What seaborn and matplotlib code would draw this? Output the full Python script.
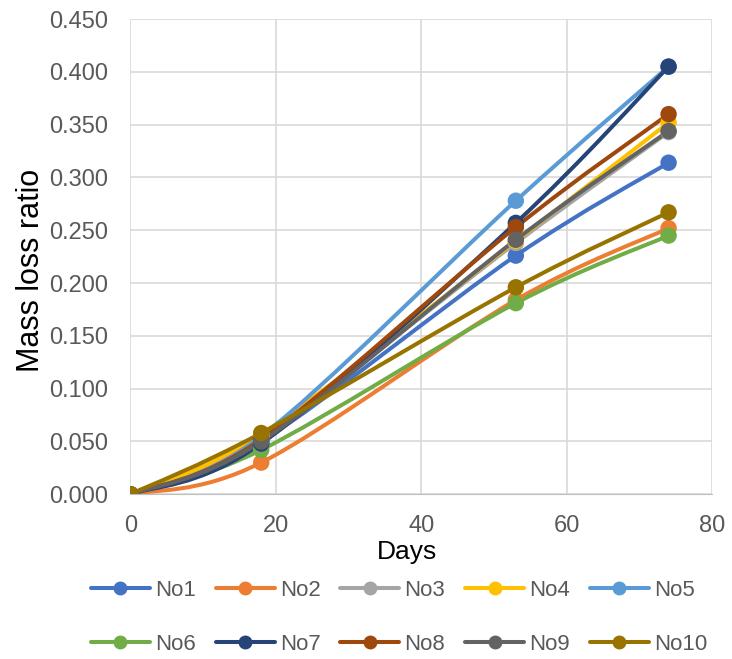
import numpy as np
import pandas as pd
import seaborn as sns
import matplotlib.pyplot as plt
from matplotlib.path import Path
from matplotlib.patches import PathPatch
from matplotlib.lines import Line2D

days = [0, 18, 53, 74]
series_names = ["No1", "No2", "No3", "No4", "No5", "No6", "No7", "No8", "No9", "No10"]
no1 = [0.000, 0.050, 0.226, 0.314]
no2 = [0.000, 0.030, 0.184, 0.252]
no3 = [0.000, 0.054, 0.238, 0.343]
no4 = [0.000, 0.057, 0.240, 0.352]
no5 = [0.000, 0.055, 0.278, 0.405]
no6 = [0.000, 0.042, 0.181, 0.245]
no7 = [0.000, 0.048, 0.257, 0.405]
no8 = [0.000, 0.052, 0.253, 0.360]
no9 = [0.000, 0.050, 0.241, 0.344]
no10 = [0.000, 0.058, 0.196, 0.267]
colors = ["#4472C4", "#ED7D31", "#A5A5A5", "#FFC000", "#5B9BD5",
          "#70AD47", "#264478", "#9E480E", "#636363", "#997300"]

all_values = [no1, no2, no3, no4, no5, no6, no7, no8, no9, no10]
rows = []
for name, vals in zip(series_names, all_values):
    for d, v in zip(days, vals):
        rows.append({"series": name, "Days": d, "ratio": v})
df = pd.DataFrame(rows)

sns.set_style("white")
plt.rcParams["font.family"] = ["Liberation Sans", "DejaVu Sans"]

fig = plt.figure(figsize=(7.32, 6.59), dpi=100)
ax = fig.add_axes([0.178, 0.250, 0.795, 0.721])


def smooth_path(xs, ys):
    # Excel-style smoothed line: cubic bezier segments through the points
    pts = np.column_stack([xs, ys]).astype(float)
    n = len(pts)
    verts = [pts[0]]
    codes = [Path.MOVETO]
    for i in range(n - 1):
        p0 = pts[max(i - 1, 0)]
        p1 = pts[i]
        p2 = pts[i + 1]
        p3 = pts[min(i + 2, n - 1)]
        c1 = p1 + (p2 - p0) / 6.0
        c2 = p2 - (p3 - p1) / 6.0
        verts += [c1, c2, p2]
        codes += [Path.CURVE4] * 3
    return Path(verts, codes)


for i, name in enumerate(series_names):
    sub = df[df["series"] == name]
    ax.add_patch(PathPatch(smooth_path(sub["Days"], sub["ratio"]), facecolor="none",
                           edgecolor=colors[i], lw=2.9, zorder=3 + i * 0.1,
                           capstyle="round", joinstyle="round"))

sns.scatterplot(data=df, x="Days", y="ratio", hue="series", hue_order=series_names,
                palette=colors, s=140, edgecolor="none", legend=False, ax=ax, zorder=5)

ax.set_xlim(0, 80)
ax.set_ylim(0, 0.45)
ax.set_xticks(np.arange(0, 81, 20))
ax.set_yticks(np.arange(0, 0.451, 0.05))
ax.set_yticklabels([f"{v:.3f}" for v in np.arange(0, 0.451, 0.05)])
ax.grid(True, color="#d9d9d9", lw=1.2)
ax.set_axisbelow(True)
for s in ["top", "right", "left"]:
    ax.spines[s].set_visible(False)
ax.spines["bottom"].set_color("#bfbfbf")
ax.tick_params(axis="both", length=0, labelsize=17, colors="#595959")
ax.tick_params(axis="y", pad=16)
ax.tick_params(axis="x", pad=15)
ax.set_xlabel("Days", fontsize=19, color="black")
ax.set_ylabel("Mass loss ratio", fontsize=22, color="black")
ax.xaxis.set_label_coords(0.475, -0.097)
ax.yaxis.set_label_coords(-0.145, 0.47)

# legend filled row by row like the original
order = [0, 5, 1, 6, 2, 7, 3, 8, 4, 9]
handles = [Line2D([0], [0], color=colors[k], lw=2.9, marker="o", markersize=9) for k in order]
labels = [series_names[k] for k in order]
fig.legend(handles, labels, ncol=5, loc="center", bbox_to_anchor=(0.545, 0.063),
           frameon=False, fontsize=16, handlelength=2.65, handletextpad=0.23,
           columnspacing=0.9, labelspacing=1.5, labelcolor="#595959")

fig.savefig("out.png", dpi=100)
